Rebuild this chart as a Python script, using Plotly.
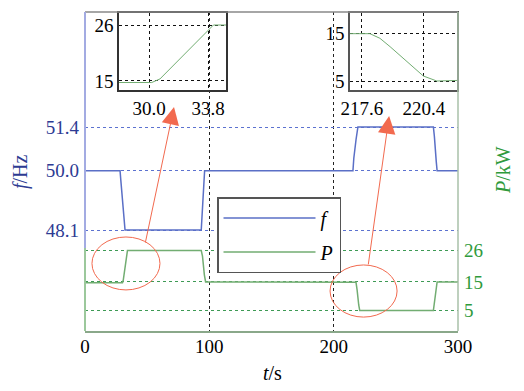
import plotly.graph_objects as go

# ---- data ----
t_f = [0, 28.2, 28.8, 30.5, 31.5, 32.2, 93.5, 94.2, 95.5, 96.2, 215.5, 216.2, 218.0, 219.5, 280.2, 281.0, 282.5, 283.2, 300]
f_hz = [50.0, 50.0, 49.7, 49.0, 48.4, 48.1, 48.1, 48.6, 49.6, 50.0, 50.0, 50.4, 51.0, 51.4, 51.4, 51.1, 50.3, 50.0, 50.0]

t_p = [0, 30.17, 30.70, 33.78, 34.15, 93.5, 94.5, 96.0, 97.0, 217.96, 218.41, 218.87, 220.15, 220.37, 220.98, 280.2, 281.0, 282.5, 283.2, 300]
p_kw = [14.7, 14.7, 15.4, 25.0, 26.0, 26.0, 24.0, 17.5, 15.0, 14.86, 13.9, 12.15, 6.94, 6.04, 5.0, 5.0, 7.5, 13.0, 15.0, 15.0]

x_ticks = [0, 100, 200, 300]
f_ticks = [48.1, 50.0, 51.4]
f_tick_text = ["48.1", "50.0", "51.4"]
p_ticks = [5, 15, 26]
inset1_xticks = [30.0, 33.8]
inset1_xtext = ["30.0", "33.8"]
inset1_yticks = [15, 26]
inset2_xticks = [217.6, 220.4]
inset2_xtext = ["217.6", "220.4"]
inset2_yticks = [5, 15]

FONT = "Liberation Serif, 'Times New Roman', Times, 'DejaVu Serif', serif"
BLUE_LINE = "#5a6fc6"
BLUE_TXT = "#2d3b93"
GREEN_LINE = "#72ad72"
GREEN_TXT = "#2f9a3c"
RED = "#f26a4f"

W, H = 524, 391
px = lambda v: v / W
py = lambda v: 1 - v / H

fig = go.Figure()

fig.add_trace(go.Scatter(x=t_f, y=f_hz, mode="lines", name="<i>f</i>",
                         line=dict(color=BLUE_LINE, width=1.5), xaxis="x", yaxis="y",
                         legendgroup="a"))
fig.add_trace(go.Scatter(x=t_p, y=p_kw, mode="lines", name="<i>P</i>",
                         line=dict(color=GREEN_LINE, width=1.5), xaxis="x", yaxis="y2",
                         legendgroup="b"))
# inset traces (same P data)
fig.add_trace(go.Scatter(x=t_p, y=p_kw, mode="lines", showlegend=False,
                         line=dict(color=GREEN_LINE, width=1), xaxis="x3", yaxis="y3"))
fig.add_trace(go.Scatter(x=t_p, y=p_kw, mode="lines", showlegend=False,
                         line=dict(color=GREEN_LINE, width=1), xaxis="x4", yaxis="y4"))

main_x = [px(85), px(458)]
main_y = [py(331), py(12)]
tickfont = dict(family=FONT, size=19)

fig.update_layout(
    template="none",
    width=W, height=H,
    margin=dict(l=0, r=0, t=0, b=0, autoexpand=False),
    paper_bgcolor="white", plot_bgcolor="rgba(0,0,0,0)",
    font=dict(family=FONT, size=19, color="black"),
    xaxis=dict(domain=main_x, range=[0, 300], tickvals=x_ticks, ticks="", showgrid=True,
               gridcolor="#222222", griddash="dot", gridwidth=1, zeroline=False,
               showline=True, linecolor="#8aa88a", linewidth=1.5, tickfont=tickfont,
               anchor="y", automargin=False, ticklabelstandoff=-3),
    yaxis=dict(domain=main_y, range=[44.864, 55.085], tickvals=f_ticks, ticktext=f_tick_text,
               ticks="", showgrid=True, gridcolor="#5c72d0", griddash="dot", gridwidth=1,
               zeroline=False, showline=False, tickfont=dict(family=FONT, size=19, color=BLUE_TXT),
               anchor="x", automargin=False, ticklabelstandoff=5),
    yaxis2=dict(domain=main_y, range=[-2.16, 109.42], overlaying="y", side="right",
                tickvals=p_ticks, ticks="", showgrid=True, gridcolor="#3e9a55", griddash="dot",
                gridwidth=1, zeroline=False, showline=False,
                tickfont=dict(family=FONT, size=19, color=GREEN_TXT), anchor="x", automargin=False,
                ticklabelstandoff=5),
    xaxis3=dict(domain=[px(119), px(226)], range=[28.06, 34.96], tickvals=inset1_xticks,
                ticktext=inset1_xtext, ticks="", showgrid=True, gridcolor="#111111",
                griddash="dot", zeroline=False, showline=True, mirror=True, linecolor="#333333",
                linewidth=1.5, tickfont=tickfont, anchor="y3", automargin=False),
    yaxis3=dict(domain=[py(90), py(13)], range=[13.23, 28.36], tickvals=inset1_yticks, ticks="",
                showgrid=True, gridcolor="#111111", griddash="dot", zeroline=False, showline=True,
                mirror=True, linecolor="#333333", linewidth=1.5, tickfont=tickfont, anchor="x3",
                automargin=False),
    xaxis4=dict(domain=[px(350), px(457)], range=[217.06, 221.89], tickvals=inset2_xticks,
                ticktext=inset2_xtext, ticks="", showgrid=True, gridcolor="#111111",
                griddash="dot", zeroline=False, showline=True, mirror=True, linecolor="#555555",
                linewidth=1.5, tickfont=tickfont, anchor="y4", automargin=False),
    yaxis4=dict(domain=[py(90), py(13)], range=[3.125, 19.17], tickvals=inset2_yticks, ticks="",
                showgrid=True, gridcolor="#111111", griddash="dot", zeroline=False, showline=True,
                mirror=True, linecolor="#555555", linewidth=1.5, tickfont=tickfont, anchor="x4",
                automargin=False),
    showlegend=True,
    legend=dict(x=px(217), y=py(197), xanchor="left", yanchor="top",
                bgcolor="white", bordercolor="#555555", borderwidth=1.5,
                font=dict(family=FONT, size=20, color="black"),
                itemwidth=92, tracegroupgap=5),
)

# frame pieces
shapes = [
    dict(type="line", xref="x domain", yref="y domain", x0=0, x1=1, y0=1, y1=1,
         line=dict(color="#888888", width=1.5)),
    dict(type="line", xref="x domain", yref="y domain", x0=0, x1=0, y0=0.26, y1=1,
         line=dict(color="#a3abe2", width=2)),
    dict(type="line", xref="x domain", yref="y domain", x0=0, x1=0, y0=0, y1=0.26,
         line=dict(color="#9cc89c", width=2)),
    dict(type="line", xref="x domain", yref="y domain", x0=1, x1=1, y0=0, y1=1,
         line=dict(color="#a8c0a8", width=1.5)),
    # red ellipses
    dict(type="circle", xref="x", yref="y", x0=5.6, x1=60.3, y0=46.18, y1=47.876,
         line=dict(color=RED, width=1)),
    dict(type="circle", xref="x", yref="y", x0=197.1, x1=251.0, y0=45.31, y1=46.98,
         line=dict(color=RED, width=1)),
]
fig.update_layout(shapes=shapes)

annotations = [
    dict(x=71.6, y=52.04, ax=48.3, ay=47.65, xref="x", yref="y", axref="x", ayref="y",
         text="", showarrow=True, arrowhead=2, arrowsize=3.5, arrowwidth=1, arrowcolor=RED),
    dict(x=244.6, y=51.75, ax=227.7, ay=46.95, xref="x", yref="y", axref="x", ayref="y",
         text="", showarrow=True, arrowhead=2, arrowsize=3.5, arrowwidth=1, arrowcolor=RED),
    dict(x=px(20), y=py(172), xref="paper", yref="paper", text="<i>f</i>/Hz", textangle=-90,
         xanchor="center", yanchor="middle",
         showarrow=False, font=dict(family=FONT, size=20, color=BLUE_TXT)),
    dict(x=px(503), y=py(170), xref="paper", yref="paper", text="<i>P</i>/kW", textangle=-90,
         xanchor="center", yanchor="middle",
         showarrow=False, font=dict(family=FONT, size=20, color=GREEN_TXT)),
    dict(x=px(272), y=py(373), xref="paper", yref="paper", text="<i>t</i>/s",
         xanchor="center", yanchor="middle",
         showarrow=False, font=dict(family=FONT, size=20, color="black")),
]
fig.update_layout(annotations=annotations)

fig.write_html("out.html", config={"displayModeBar": False},
               post_script="document.body.style.margin='0';document.body.style.overflow='hidden';")
